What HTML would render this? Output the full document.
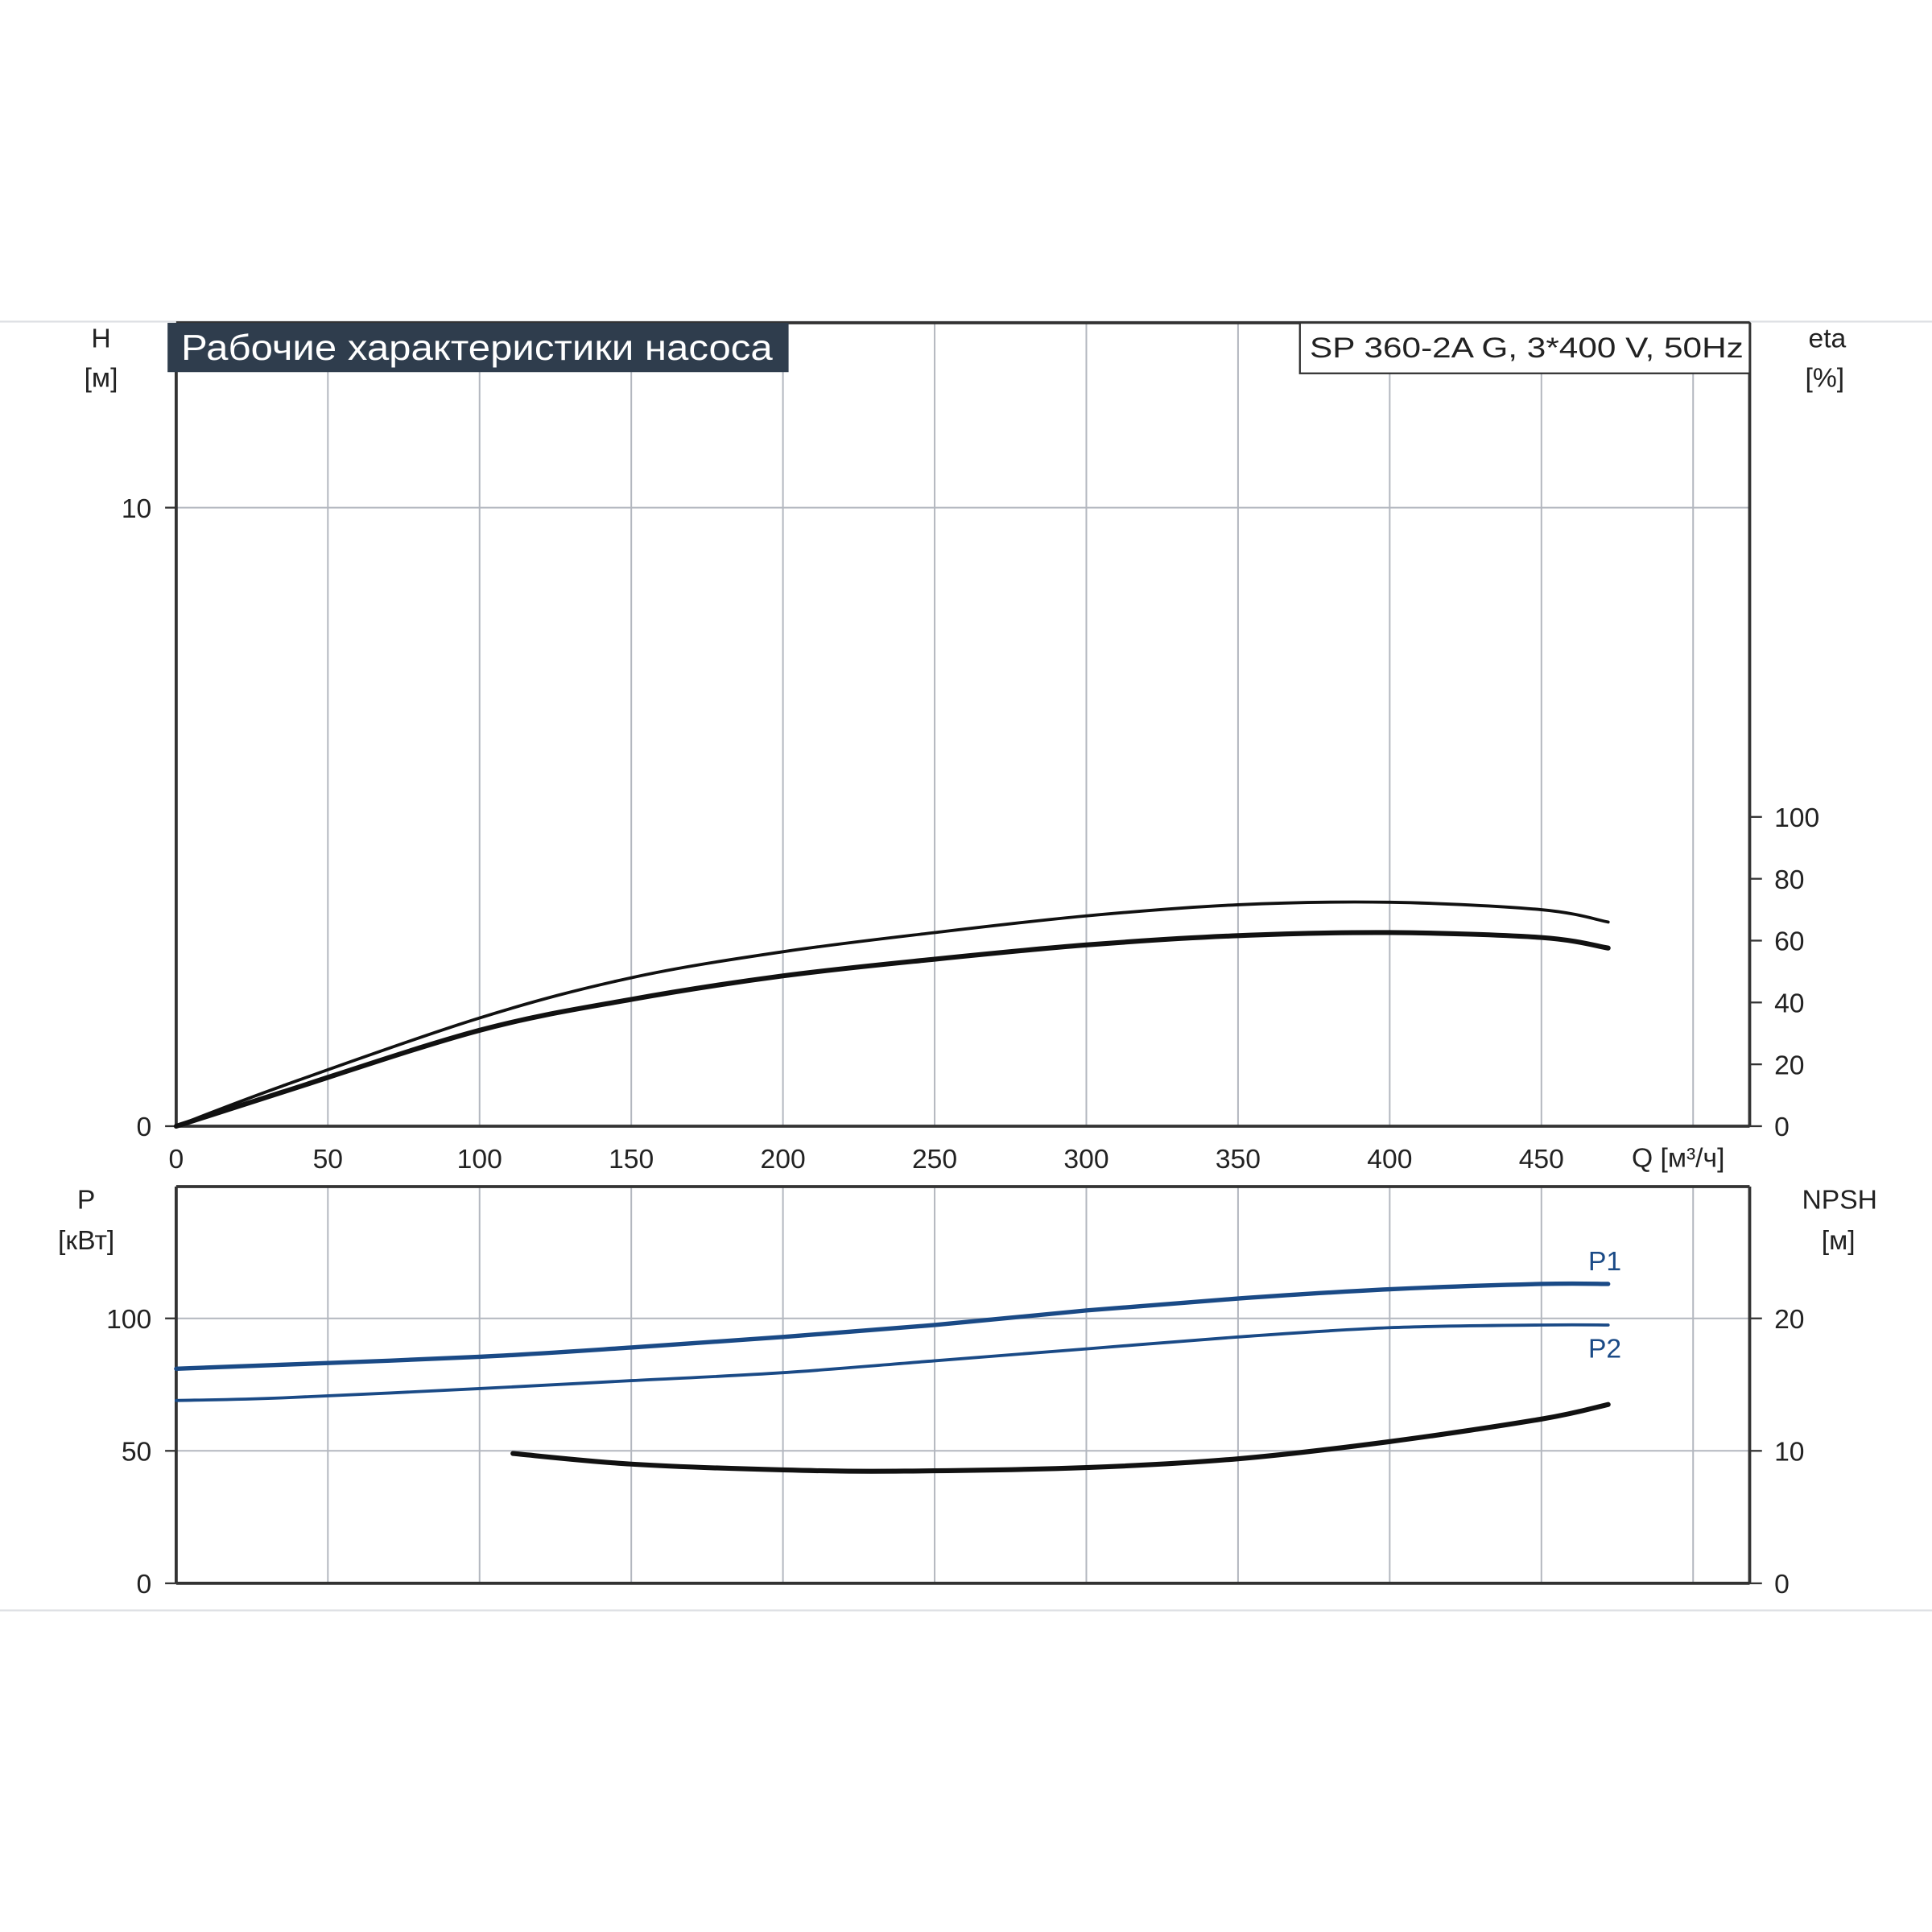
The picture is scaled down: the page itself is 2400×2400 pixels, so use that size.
<!DOCTYPE html>
<html><head><meta charset="utf-8"><style>
html,body{margin:0;padding:0;background:#fff;}
svg{display:block;font-family:"Liberation Sans",sans-serif;}
</style></head><body>
<svg id="chart" width="2400" height="2400" viewBox="0 0 1568 1568" xmlns="http://www.w3.org/2000/svg">
<line x1="0" y1="261" x2="1568" y2="261" stroke="#dde0e4" stroke-width="1.5"/>
<line x1="0" y1="1307" x2="1568" y2="1307" stroke="#dde0e4" stroke-width="1.5"/>
<g id="grid"></g>
<g id="axes"></g>
<g id="curves"></g>
<rect x="136" y="262" width="504" height="40" fill="#2f3d4d"/>
<text x="147" y="292" font-size="29" fill="#fff" textLength="480" lengthAdjust="spacingAndGlyphs" font-family="'Liberation Sans','Noto Sans CJK SC',sans-serif">Рабочие характеристики насоса</text>
<rect x="1055" y="262" width="365" height="41" fill="#fff" stroke="#333" stroke-width="1.5"/>
<text x="1063" y="290" font-size="23" fill="#222" textLength="352" lengthAdjust="spacingAndGlyphs">SP 360-2A G, 3*400 V, 50Hz</text>
<text x="82" y="282" font-size="22" text-anchor="middle" fill="#222">H</text>
<text x="82" y="314" font-size="22" text-anchor="middle" fill="#222">[м]</text>
<text x="1483" y="282" font-size="22" text-anchor="middle" fill="#222">eta</text>
<text x="1481" y="314" font-size="22" text-anchor="middle" fill="#222">[%]</text>
<text x="1362" y="947" font-size="22" text-anchor="middle" fill="#222">Q [м³/ч]</text>
<text x="70" y="981" font-size="22" text-anchor="middle" fill="#222">P</text>
<text x="70" y="1014" font-size="22" text-anchor="middle" fill="#222">[кВт]</text>
<text x="1493" y="981" font-size="22" text-anchor="middle" fill="#222">NPSH</text>
<text x="1492" y="1014" font-size="22" text-anchor="middle" fill="#222">[м]</text>
<text x="1289" y="1031" font-size="22" fill="#1a4a86">P1</text>
<text x="1289" y="1102" font-size="22" fill="#1a4a86">P2</text>
</svg>
<script>
// Data
const qTicks = [0,50,100,150,200,250,300,350,400,450];
const hTicks = [0,10,20,30,40,50,60,70,80,90,100,110];
const etaTicks = [0,20,40,60,80,100];
const pTicks = [0,50,100];
const npshTicks = [0,10,20];
const hQ = [0,10,35,50,100,150,200,230,250,300,350,400,450,472];
const hVal = [102,102.2,101.8,101,96.5,90,83,79.5,77.5,74,70,64,55,50.5];
const etaQ = [0,35,100,150,200,250,300,350,400,450,472];
const eta1Val = [0,13,35,48,56.4,62.6,68,71.6,72.4,70,66];
const eta2Val = [0,11,31,41,48.6,54,58.6,61.6,62.6,61,57.6];
const pQ = [0,35,100,150,200,250,300,350,400,450,472];
const p1Val = [81,82.5,85.5,89,93,97.5,103,107.5,111,113,113];
const p2Val = [69,70,73.5,76.5,79.5,84,88.5,93,96.5,97.5,97.5];
const npshQ = [111,150,200,240,300,350,400,450,472];
const npshVal = [9.8,9.0,8.56,8.47,8.74,9.4,10.7,12.4,13.5];

const NS='http://www.w3.org/2000/svg';
const xQ = q => 143 + q*(1251-143)/450;
const yH = h => 914 - h*50.2;
const yEta = e => 914 - e*(914-663)/100;
const yP = p => 1285 - p*2.15;
const yN = n => 1285 - n*10.75;
function mk(parent,tag,attrs){const e=document.createElementNS(NS,tag);for(const k in attrs)e.setAttribute(k,attrs[k]);parent.appendChild(e);return e;}
const grid=document.getElementById('grid'), axes=document.getElementById('axes'), curves=document.getElementById('curves');
for(let q=50;q<=500;q+=50){
  let l=mk(grid,'line',{x1:xQ(q),y1:262,x2:xQ(q),y2:914,stroke:'#b3b7bf','stroke-width':1.3});
  
  
  let l2=mk(grid,'line',{x1:xQ(q),y1:963,x2:xQ(q),y2:1285,stroke:'#b3b7bf','stroke-width':1.3});
  
  
}
for(let h=10;h<=120;h+=10){
  let l=mk(grid,'line',{x1:143,y1:yH(h),x2:1420,y2:yH(h),stroke:'#b3b7bf','stroke-width':(h%50==0||h==90)?2:1.3});
  
  
}
for(let p=50;p<=100;p+=50){
  let l=mk(grid,'line',{x1:143,y1:yP(p),x2:1420,y2:yP(p),stroke:'#b3b7bf','stroke-width':1.3});
  
  
}
[[143,262,143,914],[1420,262,1420,914],[143,914,1420,914],[143,262,1420,262],
 [143,963,1420,963],[143,963,143,1285],[1420,963,1420,1285],[143,1285,1420,1285]].forEach(c=>{
  let l=mk(axes,'line',{x1:c[0],y1:c[1],x2:c[2],y2:c[3],stroke:'#333','stroke-width':2.5});
  
  
});
function txt(x,y,s,anchor,name){let t=mk(axes,'text',{x:x,y:y,'font-size':22,'text-anchor':anchor,fill:'#222'});t.textContent=s;
  
  }
function tick(x1,y,x2){let l=mk(axes,'line',{x1:x1,y1:y,x2:x2,y2:y,stroke:'#333','stroke-width':1.5});
  
  }
qTicks.forEach(q=>txt(xQ(q),948,String(q),'middle','q-tick-label'));
hTicks.forEach(h=>{txt(123,yH(h)+8,String(h),'end','h-tick-label');tick(134,yH(h),143);});
etaTicks.forEach(e=>{txt(1440,yEta(e)+8,String(e),'start','eta-tick-label');tick(1420,yEta(e),1430);});
pTicks.forEach(p=>{txt(123,yP(p)+8,String(p),'end','p-tick-label');tick(134,yP(p),143);});
npshTicks.forEach(n=>{txt(1440,yN(n)+8,String(n),'start','npsh-tick-label');tick(1420,yN(n),1430);});
function path(xs,ys,fy,color,w,name){
  const pts=xs.map((q,i)=>[xQ(q),fy(ys[i])]);
  let d='M'+pts[0][0]+','+pts[0][1];
  for(let i=0;i<pts.length-1;i++){
    const p0=pts[Math.max(0,i-1)],p1=pts[i],p2=pts[i+1],p3=pts[Math.min(pts.length-1,i+2)];
    const c1=[p1[0]+(p2[0]-p0[0])/6,p1[1]+(p2[1]-p0[1])/6];
    const c2=[p2[0]-(p3[0]-p1[0])/6,p2[1]-(p3[1]-p1[1])/6];
    d+=' C'+c1+' '+c2+' '+p2;
  }
  let e=mk(curves,'path',{d:d,fill:'none',stroke:color,'stroke-width':w,'stroke-linecap':'round'});
  
  
}
path(hQ,hVal,yH,'#1a4a86',3.5,'head-curve');
path(etaQ,eta1Val,yEta,'#111',2.5,'eta-curve-1');
path(etaQ,eta2Val,yEta,'#111',4,'eta-curve-2');
path(pQ,p1Val,yP,'#1a4a86',3.5,'p1-curve');
path(pQ,p2Val,yP,'#1a4a86',2.5,'p2-curve');
path(npshQ,npshVal,yN,'#111',4,'npsh-curve');
</script>
</body></html>
